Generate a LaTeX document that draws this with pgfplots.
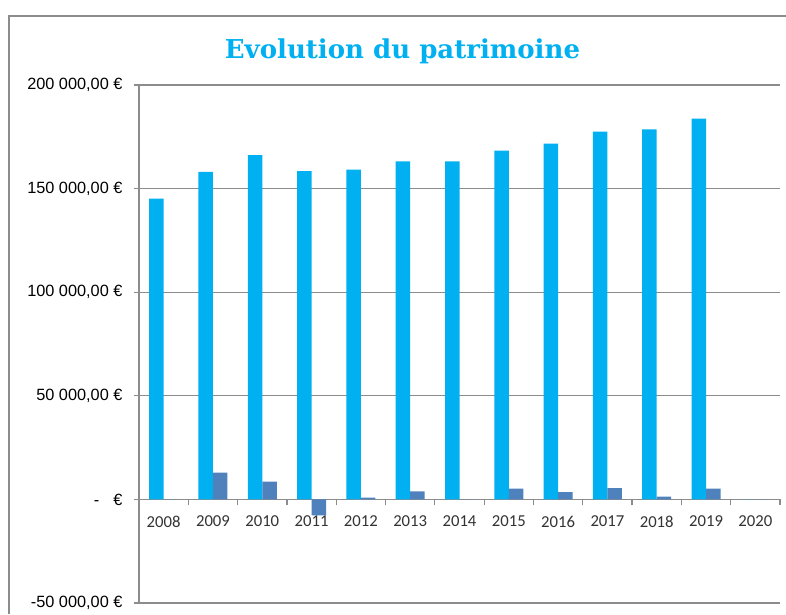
\documentclass[border=0pt]{standalone}
\usepackage{pgfplots}
\pgfplotsset{compat=1.18}
\usepackage{fontspec}
\setmainfont{Liberation Sans}
\newfontfamily\carlito{Carlito}
\newfontfamily\titlefont{DejaVu Serif}
\definecolor{cbar}{HTML}{00B0F0}
\definecolor{dbar}{HTML}{4F81BD}
\definecolor{gridc}{HTML}{8C8C8C}
\begin{document}
\begin{tikzpicture}
\begin{axis}[
  at={(139pt,11pt)}, anchor=south west,
  scale only axis, width=641pt, height=518pt,
  xmin=-0.5, xmax=12.5, ymin=-50000, ymax=200000,
  scaled y ticks=false,
  axis x line=middle, axis y line=left,
  x axis line style={-, gridc, line width=1.3pt},
  y axis line style={-, gridc, line width=1.3pt},
  ybar=0pt, bar width=14.5pt,
  xtick={0,...,12},
  xticklabels={2008,2009,2010,2011,2012,2013,2014,2015,2016,2017,2018,2019,2020},
  minor xtick={0.5,1.5,...,11.5},
  major x tick style={draw=none},
  minor x tick style={gridc, line width=1.2pt},
  minor tick length=6pt,
  tick align=outside,
  ytick={-50000,0,50000,100000,150000,200000},
  yticklabels={{-50 000,00 €},{-\hspace{14pt}€},{50 000,00 €},{100 000,00 €},{150 000,00 €},{200 000,00 €}},
  major tick length=5pt,
  y tick style={gridc, line width=1.2pt},
  ymajorgrids, grid style={gridc, line width=1.2pt},
  xticklabel style={font=\carlito\fontsize{16.7}{18}\selectfont, text=black!80, yshift=-8pt},
  yticklabel style={font=\fontsize{16.3}{18}\selectfont, text=black, anchor=east, xshift=-8pt},
  clip=false,
]
\addplot[fill=cbar, draw=none] coordinates {
 (0,145150) (1,158100) (2,166200) (3,158400) (4,159200) (5,163100) (6,163100)
 (7,168300) (8,171700) (9,177500) (10,178600) (11,183800) (12,0)};
\addplot[fill=dbar, draw=none] coordinates {
 (0,0) (1,12950) (2,8600) (3,-7760) (4,800) (5,3900) (6,0)
 (7,5200) (8,3500) (9,5500) (10,1300) (11,5200) (12,0)};
\draw[gridc, line width=1.2pt] (axis cs:12.5,0) -- (axis cs:12.5,-2900);
\end{axis}
\begin{scope}[x=1pt,y=1pt]
\node[anchor=base, text=cbar, font=\titlefont\bfseries\fontsize{26}{30}\selectfont] at (402.5,555.7) {Evolution du patrimoine};
\draw[gridc, line width=1.5pt] (9,0) -- (9,598) -- (786,598);
\pgfresetboundingbox
\path (0,0) rectangle (786,614);
\end{scope}
\end{tikzpicture}
\end{document}
